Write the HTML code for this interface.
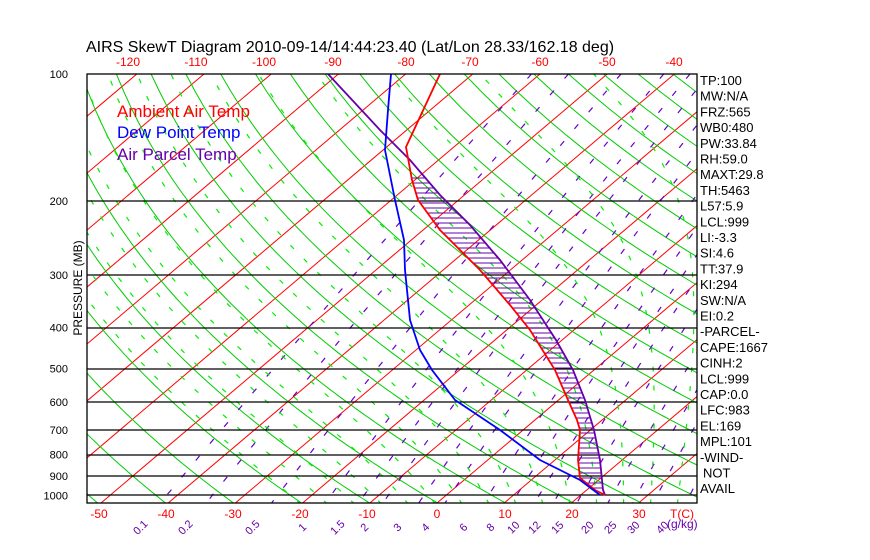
<!DOCTYPE html>
<html><head><meta charset="utf-8"><style>
body{margin:0;background:#fff;width:870px;height:560px;overflow:hidden}
svg{display:block;font-family:"Liberation Sans",sans-serif}
</style></head><body>
<svg id="s" width="870" height="560" xmlns="http://www.w3.org/2000/svg"></svg>
<script>
const S=document.getElementById('s');
const L=87,R=697,T0=74,B=503,K=183;
function Y(p){return T0+K*Math.log(p/100);}
function X(t,y){return 437+6.72*t+(B-y)*1.18;}
let h='<defs><clipPath id="c"><rect x="'+L+'" y="'+T0+'" width="'+(R-L)+'" height="'+(B-T0)+'"/></clipPath></defs>';
h+='<rect width="870" height="560" fill="#fff"/><g clip-path="url(#c)">';
function pl(pts,col,w,dash){return '<polyline fill="none" stroke="'+col+'" stroke-width="'+w+'"'+(dash?' stroke-dasharray="'+dash+'"':'')+' points="'+pts.map(p=>p[0].toFixed(1)+','+p[1].toFixed(1)).join(' ')+'"/>';}
for(let t=-160;t<=50;t+=10){h+=pl([[X(t,B),B],[X(t,T0),T0]],'#f00',1);}
for(let th=200;th<=520;th+=10){let a=[];for(let p=100;p<=1050;p+=10){let tk=th*Math.pow(p/1000,0.286);let y=Y(p);a.push([X(tk-273.15,y),y]);}h+=pl(a,'#0c0',1);}
const ws=[0.1,0.2,0.5,1,1.5,2,3,4,6,8,10,12,15,20,25,30,40];
for(const w of ws){let a=[];for(let p=100;p<=1050;p+=10){let e=w*p/(622+w);let g=Math.log(e/6.112);let td=243.5*g/(17.67-g);let y=Y(p);a.push([X(td,y),y]);}h+=pl(a,'#60c',1.2,'6 16');}
function es(t){return 6.112*Math.exp(17.67*t/(t+243.5));}
for(let t0=-20;t0<=60;t0+=4){let tk=t0+273.15,a=[];for(let p=1050;p>=100;p-=5){let tc=tk-273.15;let rs=0.622*es(tc)/(p-es(tc));let Lv=2.5e6,Rd=287,cp=1004;let dT=(Rd*tk+Lv*rs)/(cp+Lv*Lv*rs*0.622/(Rd*tk*tk))/p;let y=Y(p);a.push([X(tc,y),y]);tk-=dT*5;}h+=pl(a,'#0e0',1.2,'5 14');}
for(const p of [200,300,400,500,600,700,800,900,1000]){let y=Math.round(Y(p));h+='<line x1="'+L+'" x2="'+R+'" y1="'+y+'" y2="'+y+'" stroke="#000" stroke-width="1.3"/>';}
const temp=[[440,74],[406,147],[412,180],[418,200],[440,230],[455,245],[480,270],[510,305],[530,330],[555,370],[568,400],[577,420],[580,430],[578,460],[580,478],[595,490],[605,495]];
const dew=[[391,74],[388,110],[385,150],[395,200],[404,240],[405,270],[410,320],[420,350],[432,370],[455,400],[500,430],[540,460],[580,480],[600,495]];
const par=[[328,74],[380,130],[410,160],[440,195],[470,225],[500,260],[530,300],[556,340],[573,370],[585,400],[594,430],[600,460],[603,490],[605,495]];
function xat(a,y){for(let i=0;i<a.length-1;i++){if(y>=a[i][1]&&y<=a[i+1][1]){let f=(y-a[i][1])/(a[i+1][1]-a[i][1]||1);return a[i][0]+f*(a[i+1][0]-a[i][0]);}}return null;}
for(let y=178;y<=490;y+=5){let a=xat(temp,y),b=xat(par,y);if(a!=null&&b!=null&&b>a)h+='<line x1="'+a+'" x2="'+b+'" y1="'+y+'" y2="'+y+'" stroke="#60a" stroke-width="1"/>';}
h+=pl(par,'#60a',1.8);h+=pl(temp,'#f00',1.8);h+=pl(dew,'#00f',1.8);
h+='</g>';
h+='<rect x="'+L+'" y="'+T0+'" width="'+(R-L)+'" height="'+(B-T0)+'" fill="none" stroke="#000" stroke-width="1.3"/>';
h+='<g font-size="17"><text x="117" y="117" fill="#f00">Ambient Air Temp</text><text x="117" y="138" fill="#00f">Dew Point Temp</text><text x="117" y="160" fill="#60a">Air Parcel Temp</text></g>';
h+='<text x="86" y="52" font-size="16">AIRS SkewT Diagram 2010-09-14/14:44:23.40 (Lat/Lon 28.33/162.18 deg)</text>';
[[-120,128],[-110,196],[-100,264],[-90,333],[-80,406],[-70,470],[-60,540],[-50,607],[-40,674]].forEach(v=>h+='<text x="'+v[1]+'" y="66" fill="#f00" font-size="12" text-anchor="middle">'+v[0]+'</text>');
[[-50,99],[-40,166],[-30,233],[-20,300],[-10,367],[0,437],[10,505],[20,572],[30,639]].forEach(v=>h+='<text x="'+v[1]+'" y="518" fill="#f00" font-size="12" text-anchor="middle">'+v[0]+'</text>');
h+='<text x="682" y="518" fill="#f00" font-size="12" text-anchor="middle">T(C)</text>';
[100,200,300,400,500,600,700,800,900,1000].forEach(p=>h+='<text x="68" y="'+(Y(p)+4)+'" font-size="11" text-anchor="end">'+p+'</text>');
h+='<text transform="translate(82,288) rotate(-90)" font-size="12" text-anchor="middle">PRESSURE (MB)</text>';
[['0.1',143],['0.2',188],['0.5',255],['1',305],['1.5',340],['2',367],['3',400],['4',428],['6',466],['8',493],['10',516],['12',537],['15',560],['20',590],['25',613],['30',636],['40',665]].forEach(v=>h+='<text transform="translate('+v[1]+',530) rotate(-45)" fill="#60a" font-size="11" text-anchor="middle">'+v[0]+'</text>');
h+='<text x="667" y="528" fill="#60a" font-size="12">(g/kg)</text>';
const rc=['TP:100','MW:N/A','FRZ:565','WB0:480','PW:33.84','RH:59.0','MAXT:29.8','TH:5463','L57:5.9','LCL:999','LI:-3.3','SI:4.6','TT:37.9','KI:294','SW:N/A','EI:0.2','-PARCEL-','CAPE:1667','CINH:2','LCL:999','CAP:0.0','LFC:983','EL:169','MPL:101','-WIND-','NOT','AVAIL'];
rc.forEach((t,i)=>h+='<text x="'+(t=='NOT'?703:700)+'" y="'+(85+i*15.7).toFixed(1)+'" font-size="13">'+t+'</text>');
S.innerHTML=h;
</script>
</body></html>
